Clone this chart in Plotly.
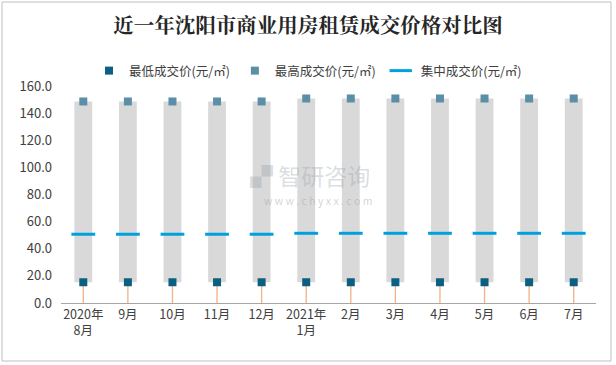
import plotly.graph_objects as go

categories = ["2020年<br>8月", "9月", "10月", "11月", "12月", "2021年<br>1月",
              "2月", "3月", "4月", "5月", "6月", "7月"]
low_price = [15.3, 15.3, 15.3, 15.3, 15.3, 15.3, 15.3, 15.3, 15.3, 15.3, 15.3, 15.3]
high_price = [148.6, 148.6, 148.6, 148.6, 148.6, 150.8, 150.8, 150.8, 150.8, 150.8, 150.8, 150.8]
mid_price = [50.7, 50.7, 50.7, 50.7, 50.7, 51.4, 51.4, 51.4, 51.4, 51.4, 51.4, 51.4]
y_ticks = [0, 20, 40, 60, 80, 100, 120, 140, 160]

FONT = "Microsoft YaHei, Noto Sans CJK SC, sans-serif"

fig = go.Figure()

# gray floating range bars
fig.add_trace(go.Bar(
    x=categories,
    y=[h - l for h, l in zip(high_price, low_price)],
    base=low_price,
    width=0.4,
    marker=dict(color="#d9d9d9", line=dict(width=0)),
    showlegend=False,
    hoverinfo="skip",
))

# orange drop lines from axis to low marker
lx, ly = [], []
for c, l in zip(categories, low_price):
    lx += [c, c, None]
    ly += [0, l, None]
fig.add_trace(go.Scatter(
    x=lx, y=ly, mode="lines",
    line=dict(color="#f4b183", width=1.3),
    showlegend=False, hoverinfo="skip",
))

fig.add_trace(go.Scatter(
    x=categories, y=low_price, mode="markers",
    name="最低成交价(元/㎡)",
    marker=dict(symbol="square", size=8, color="#0b5f80"),
))
fig.add_trace(go.Scatter(
    x=categories, y=high_price, mode="markers",
    name="最高成交价(元/㎡)",
    marker=dict(symbol="square", size=8, color="#5b8fa8"),
))
fig.add_trace(go.Scatter(
    x=categories, y=mid_price, mode="markers",
    name="集中成交价(元/㎡)",
    marker=dict(symbol="line-ew", size=17, color="#00a0dc",
                line=dict(color="#00a0dc", width=3)),
))

# plot area in pixels: x 61..596, y 86..303
L, R, T, B = 61, 596, 86, 303
W, H = 616, 365
pw, ph = R - L, B - T

def px_x(x):
    return (x - L) / pw

def px_y(y):
    return (B - y) / ph

fig.add_shape(type="rect", xref="paper", yref="paper",
              x0=px_x(2), x1=px_x(611), y0=px_y(361), y1=px_y(2),
              line=dict(color="#bfbfbf", width=1), fillcolor="rgba(0,0,0,0)",
              layer="below")

# watermark
fig.add_annotation(xref="paper", yref="paper", x=px_x(310), y=px_y(175),
                   text="<b>▞</b> 智研咨询", showarrow=False,
                   font=dict(family=FONT, size=23, color="rgba(150,160,170,0.35)"))
fig.add_annotation(xref="paper", yref="paper", x=px_x(318), y=px_y(200),
                   text="w w w . c h y x x . c o m", showarrow=False,
                   font=dict(family=FONT, size=10.5, color="rgba(150,160,170,0.45)"))

fig.update_layout(
    width=W, height=H,
    margin=dict(l=L, r=W - R, t=T, b=H - B, pad=0, autoexpand=False),
    paper_bgcolor="white", plot_bgcolor="white",
    font=dict(family=FONT, size=13, color="#404040"),
    title=dict(text="<b>近一年沈阳市商业用房租赁成交价格对比图</b>",
               x=0.5, xref="container", xanchor="center",
               y=1 - 26 / H, yref="container", yanchor="middle",
               font=dict(family="Noto Serif CJK SC, Noto Sans CJK SC, serif", size=20.5, color="#262626")),
    legend=dict(orientation="h", x=0.5, xref="container", xanchor="center",
                y=1 - 71 / H, yref="container", yanchor="middle",
                font=dict(size=12.5, color="#404040"),
                itemwidth=30, tracegroupgap=0),
    barmode="overlay",
    xaxis=dict(type="category", showgrid=False, showline=True,
               linecolor="#a6a6a6", linewidth=1, ticks="",
               tickfont=dict(size=12.5, color="#404040"),
               range=[-0.5, 11.5]),
    yaxis=dict(range=[0, 160], tickvals=y_ticks, tickformat=".1f",
               showgrid=False, zeroline=False, showline=False,
               ticks="", tickfont=dict(size=13, color="#404040"),
               ticklabelstandoff=8),
    showlegend=True,
)

fig.write_html("out.html",
               config={"displayModeBar": False},
               post_script="document.body.style.margin='0';document.body.style.overflow='hidden';")
